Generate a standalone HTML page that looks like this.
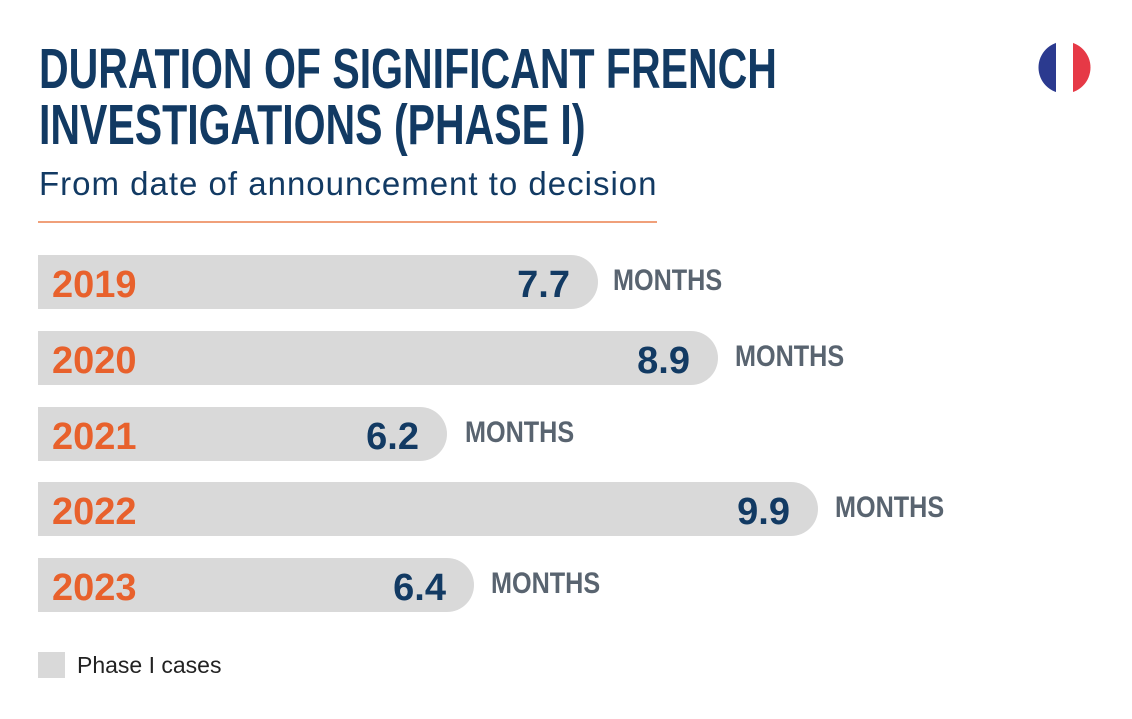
<!DOCTYPE html>
<html><head><style>
body{margin:0;width:1132px;height:719px;background:#fff;position:relative;overflow:hidden;font-family:"Liberation Sans",sans-serif}
.t{position:absolute;left:39px;top:41px;color:#123a63;font-weight:bold;font-size:57px;line-height:56px;transform:scaleX(0.72);transform-origin:0 0;white-space:nowrap}
.s{position:absolute;left:39px;top:165px;color:#123a63;font-size:33px;letter-spacing:1px;white-space:nowrap}
.ln{position:absolute;left:38px;top:221px;width:619px;height:2px;background:#f0a07a}
.bar{position:absolute;left:38px;height:54px;background:#d9d9d9;border-radius:0 27px 27px 0}
.yr{position:absolute;left:14px;top:9px;color:#e8612c;font-weight:bold;font-size:38px}
.v{position:absolute;right:28px;top:9px;color:#123a63;font-weight:bold;font-size:38px}
.m{position:absolute;color:#596470;font-weight:bold;font-size:30px;transform:scaleX(0.84);transform-origin:0 0}
.lg{position:absolute;left:38px;top:652px;width:27px;height:26px;background:#d9d9d9}
.lt{position:absolute;left:77px;top:652px;font-size:23px;color:#222}
</style></head><body>
<div class="t">DURATION OF SIGNIFICANT FRENCH<br>INVESTIGATIONS (PHASE I)</div>
<div class="s">From date of announcement to decision</div>
<div class="ln"></div>
<svg style="position:absolute;left:1038px;top:41px" width="53" height="53"><defs><clipPath id="c"><circle cx="26.5" cy="26.5" r="26"/></clipPath></defs><g clip-path="url(#c)"><rect x="0" y="0" width="18" height="53" fill="#2b3a8f"/><rect x="18" y="0" width="17" height="53" fill="#fff"/><rect x="35" y="0" width="18" height="53" fill="#e63946"/></g></svg>
<div class="bar" style="top:255px;width:560px"><span class="yr">2019</span><span class="v">7.7</span></div>
<div class="m" style="left:613px;top:264px">MONTHS</div>
<div class="bar" style="top:331px;width:680px"><span class="yr">2020</span><span class="v">8.9</span></div>
<div class="m" style="left:735px;top:340px">MONTHS</div>
<div class="bar" style="top:407px;width:409px"><span class="yr">2021</span><span class="v">6.2</span></div>
<div class="m" style="left:465px;top:416px">MONTHS</div>
<div class="bar" style="top:482px;width:780px"><span class="yr">2022</span><span class="v">9.9</span></div>
<div class="m" style="left:835px;top:491px">MONTHS</div>
<div class="bar" style="top:558px;width:436px"><span class="yr">2023</span><span class="v">6.4</span></div>
<div class="m" style="left:491px;top:567px">MONTHS</div>
<div class="lg"></div><div class="lt">Phase I cases</div>
</body></html>
